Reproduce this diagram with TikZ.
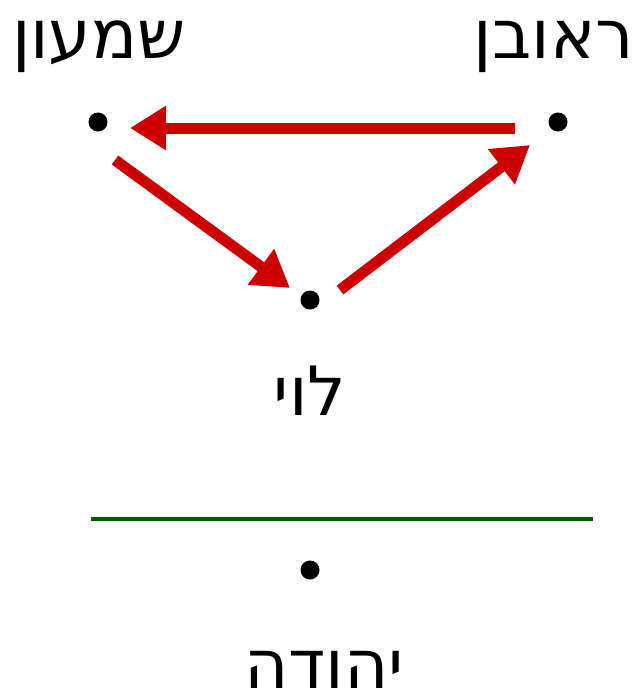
\documentclass[tikz,border=0pt]{standalone}
\usepackage{fontspec}
\newfontfamily\hebfont[Script=Hebrew]{DejaVu Sans}
\TeXXeTstate=1
\usetikzlibrary{arrows.meta}
\definecolor{arrred}{RGB}{204,0,0}
\definecolor{lgreen}{RGB}{0,90,0}
\tikzset{
  pt/.style={circle,fill=black,inner sep=0pt,minimum size=19pt},
  lab/.style={anchor=base,inner sep=0pt,font=\hebfont\fontsize{68}{76}\selectfont},
  rel/.style={draw=arrred,line width=11pt,-{Triangle[length=36pt,width=42pt]}}
}
\begin{document}
\begin{tikzpicture}[x=1pt,y=-1pt]
\useasboundingbox (0,0) rectangle (636,691);
\node[pt] (s) at (98,122) {};
\node[pt] (r) at (558,122) {};
\node[pt] (l) at (310,300) {};
\node[pt] (y) at (310,570) {};
\node[lab] (ls) at (99,58) {\beginR שמעון\endR};
\node[lab] (lr) at (554,58) {\beginR ראובן\endR};
\node[lab] (ll) at (310,415) {\beginR לוי\endR};
\node[lab] (ly) at (324,688) {\beginR יהודה\endR};
\coordinate (a1) at (515,128);
\coordinate (a1e) at (130,128);
\coordinate (a2) at (115,160);
\coordinate (a2e) at (290,288);
\coordinate (a3) at (340,290);
\coordinate (a3e) at (530,145);
\draw[rel] (a1) -- (a1e);
\draw[rel] (a2) -- (a2e);
\draw[rel] (a3) -- (a3e);
\coordinate (g1) at (91,519);
\coordinate (g2) at (593,519);
\draw[lgreen,line width=4pt] (g1) -- (g2);
\end{tikzpicture}
\end{document}
